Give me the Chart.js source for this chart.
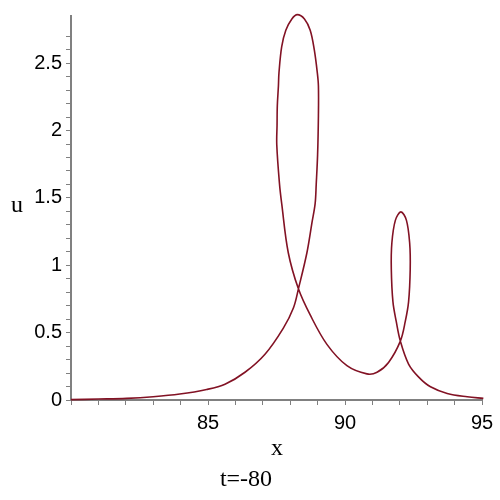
<!DOCTYPE html>
<html>
<head>
<meta charset="utf-8">
<script src="https://cdn.jsdelivr.net/npm/chart.js@4/dist/chart.umd.min.js"></script>
<style>
  html, body { margin: 0; padding: 0; background: #fff; }
  #wrap { width: 500px; height: 500px; }
</style>
</head>
<body>
<div id="wrap"><canvas id="chartLoop" width="500" height="500"></canvas></div>
<script>
// curve points (x, u)
const xVals = [80.0, 81.0, 82.03, 83.0, 83.97, 84.95, 85.62, 86.35, 87.08, 87.75, 88.12, 88.30,
    88.61, 88.79, 88.91, 88.95, 89.0, 89.03, 89.03, 88.99, 88.88, 88.73, 88.52, 88.26, 88.06, 87.84,
    87.69, 87.59, 87.57, 87.53, 87.52, 87.51, 87.61, 87.69, 87.93, 88.30, 88.73, 89.34, 90.07, 90.80,
    91.17, 91.59, 92.02, 92.20, 92.32, 92.38, 92.36, 92.24, 92.04, 91.84, 91.71, 91.69, 91.75,
    91.87, 92.02, 92.32, 92.69, 93.12, 93.73, 94.46, 95.05];
const uVals = [0.003, 0.007, 0.012, 0.024, 0.044, 0.078, 0.117, 0.206, 0.340, 0.534, 0.685, 0.825,
    1.093, 1.311, 1.457, 1.602, 1.821, 2.112, 2.331, 2.428, 2.598, 2.744, 2.828, 2.860, 2.828, 2.744,
    2.622, 2.428, 2.331, 2.185, 2.04, 1.894, 1.602, 1.457, 1.093, 0.825, 0.631, 0.413, 0.255, 0.194,
    0.206, 0.279, 0.437, 0.583, 0.728, 0.971, 1.165, 1.335, 1.396, 1.335, 1.165, 0.971, 0.728,
    0.583, 0.437, 0.267, 0.170, 0.098, 0.049, 0.024, 0.012];

const xTickLabels = [85, 90, 95];
const yTickLabels = [0, 0.5, 1, 1.5, 2, 2.5];

const xTitle = 'x';
const yTitle = 'u';
const caption = 't=-80';

// Maple style labels: upright "u", "x" and caption below
const etiquetas = {
    id: 'etiquetas',
    afterDraw(chart) {
        const ctx = chart.ctx;
        ctx.save();
        ctx.fillStyle = '#000';
        ctx.font = '24px "Liberation Serif"';
        ctx.textAlign = 'center';
        ctx.textBaseline = 'middle';
        ctx.fillText(yTitle, 17, 206);
        ctx.fillText(xTitle, 277, 449);
        ctx.fillText(caption, 246, 480);
        ctx.restore();
    }
};

new Chart(document.getElementById('chartLoop'), {
    type: 'scatter',
    data: {
        datasets: [{
            data: xVals.map((x, i) => ({ x: x, y: uVals[i] })),
            showLine: true,
            borderColor: '#821224',
            borderWidth: 1.6,
            pointRadius: 0,
            tension: 0.35,
            clip: false
        }]
    },
    options: {
        responsive: false,
        animation: false,
        layout: { padding: { top: 9, right: 18, left: 0, bottom: 0 } },
        plugins: { legend: { display: false }, tooltip: { enabled: false } },
        scales: {
            x: {
                type: 'linear',
                min: 80,
                max: 95,
                afterFit: s => { s.height = 100; },
                grid: { drawOnChartArea: false, drawTicks: true, tickLength: 5, color: '#808080' },
                border: { color: '#808080', width: 2 },
                ticks: {
                    stepSize: 1,
                    autoSkip: false,
                    maxRotation: 0,
                    padding: 6,
                    color: '#000',
                    font: { family: '"Liberation Sans"', size: 20 },
                    callback: v => xTickLabels.includes(v) ? String(v) : ''
                }
            },
            y: {
                type: 'linear',
                min: 0,
                max: 2.85,
                afterFit: s => { s.width = 71; },
                afterBuildTicks: s => {
                    s.ticks = s.ticks.filter(t => Math.abs(t.value * 10 - Math.round(t.value * 10)) < 1e-6);
                },
                grid: { drawOnChartArea: false, drawTicks: true, tickLength: 5, color: '#808080' },
                border: { color: '#808080', width: 2 },
                ticks: {
                    stepSize: 0.1,
                    autoSkip: false,
                    padding: 4,
                    color: '#000',
                    font: { family: '"Liberation Sans"', size: 20 },
                    callback: v => {
                        const hit = yTickLabels.find(l => Math.abs(l - v) < 1e-6);
                        return hit !== undefined ? String(hit) : '';
                    }
                }
            }
        }
    },
    plugins: [etiquetas]
});
</script>
</body>
</html>
